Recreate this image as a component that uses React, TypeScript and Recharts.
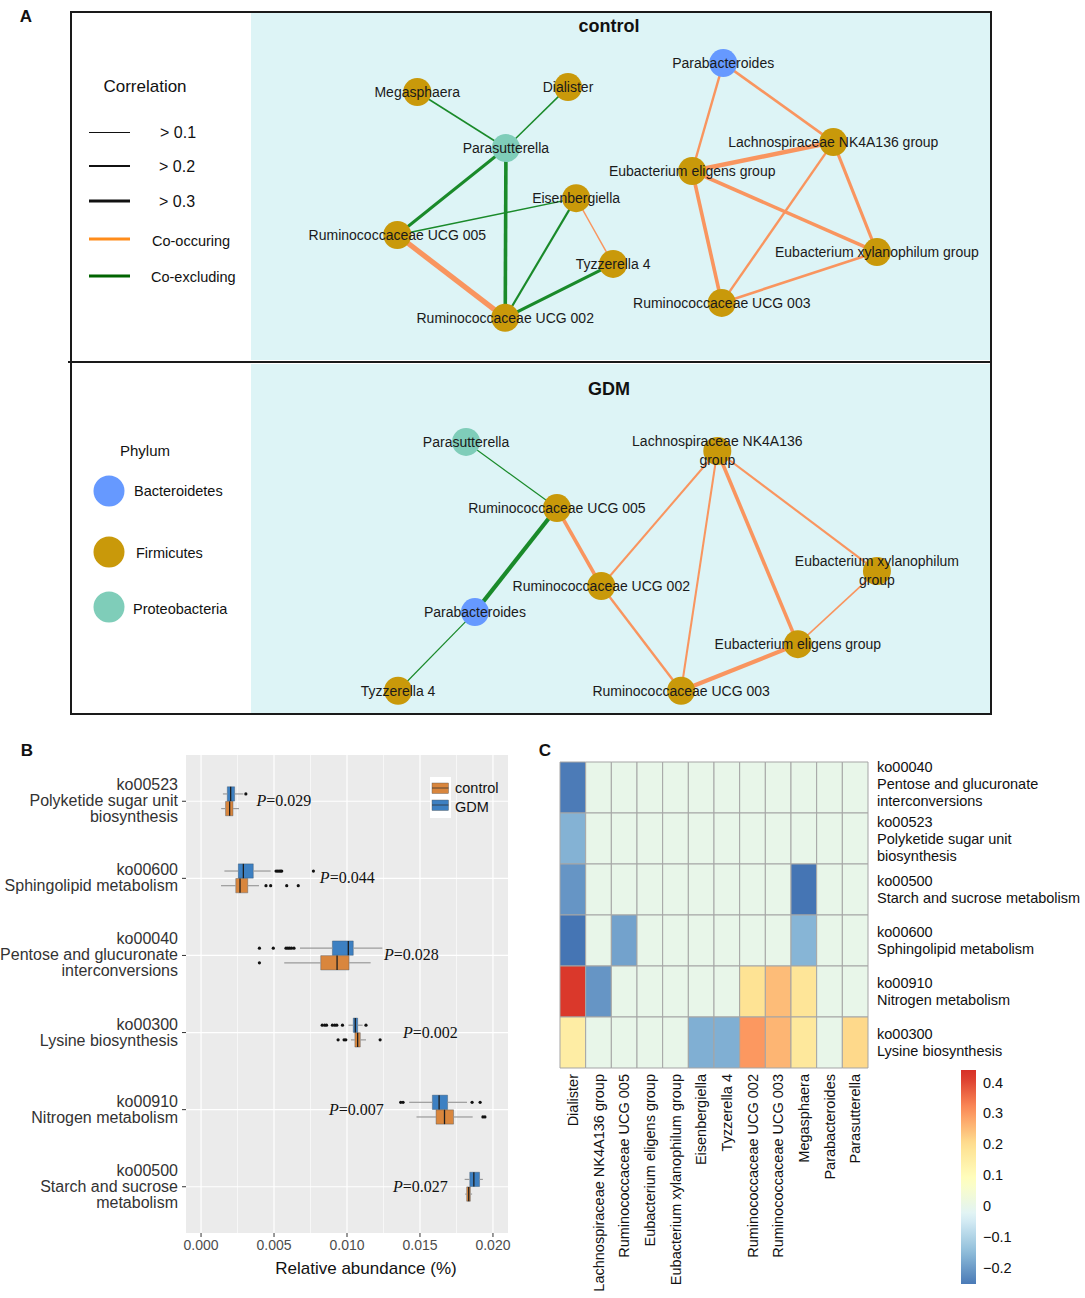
import React from 'react'
import {
  ScatterChart, Scatter, BarChart, Bar, XAxis, YAxis, CartesianGrid,
  ReferenceArea, ReferenceLine,
} from 'recharts'

// ---------- A: co-occurrence networks ----------
const phylumColor: Record<string, string> = {
  Bacteroidetes: '#6699ff',
  Firmicutes: '#c9990a',
  Proteobacteria: '#7fcdb9',
}
const EDGE_POS = '#f9955f'
const EDGE_NEG = '#1a8a2a'

// layout coordinates (0-100) of each genus in the control network
const controlNodes = [
  { id: 'Megasphaera', label: 'Megasphaera', phylum: 'Firmicutes', x: 22.5, y: 22.7 },
  { id: 'Dialister', label: 'Dialister', phylum: 'Firmicutes', x: 42.9, y: 21.3 },
  { id: 'Parasutterella', label: 'Parasutterella', phylum: 'Proteobacteria', x: 34.5, y: 38.8 },
  { id: 'Parabacteroides', label: 'Parabacteroides', phylum: 'Bacteroidetes', x: 63.9, y: 14.4 },
  { id: 'Lachno', label: 'Lachnospiraceae NK4A136 group', phylum: 'Firmicutes', x: 78.8, y: 37.1 },
  { id: 'Eligens', label: 'Eubacterium eligens group', phylum: 'Firmicutes', x: 59.7, y: 45.4 },
  { id: 'Eisenbergiella', label: 'Eisenbergiella', phylum: 'Firmicutes', x: 44.0, y: 53.2 },
  { id: 'UCG005', label: 'Ruminococcaceae UCG 005', phylum: 'Firmicutes', x: 19.8, y: 63.8 },
  { id: 'Tyzzerella', label: 'Tyzzerella 4', phylum: 'Firmicutes', x: 49.0, y: 72.1 },
  { id: 'Xylano', label: 'Eubacterium xylanophilum group', phylum: 'Firmicutes', x: 84.7, y: 68.7 },
  { id: 'UCG003', label: 'Ruminococcaceae UCG 003', phylum: 'Firmicutes', x: 63.7, y: 83.3 },
  { id: 'UCG002', label: 'Ruminococcaceae UCG 002', phylum: 'Firmicutes', x: 34.4, y: 87.6 },
]

// [from, to, correlation]  (+ co-occurring, - co-excluding)
const controlEdges: [string, string, number][] = [
  ['Megasphaera', 'Parasutterella', -0.13],
  ['Dialister', 'Parasutterella', -0.13],
  ['Parasutterella', 'UCG005', -0.25],
  ['Parasutterella', 'UCG002', -0.3],
  ['UCG005', 'Eisenbergiella', -0.12],
  ['Eisenbergiella', 'UCG002', -0.18],
  ['Tyzzerella', 'UCG002', -0.25],
  ['UCG005', 'UCG002', 0.44],
  ['Eisenbergiella', 'Tyzzerella', 0.12],
  ['Parabacteroides', 'Eligens', 0.2],
  ['Parabacteroides', 'Lachno', 0.22],
  ['Eligens', 'Lachno', 0.38],
  ['Eligens', 'Xylano', 0.3],
  ['Eligens', 'UCG003', 0.3],
  ['Lachno', 'UCG003', 0.2],
  ['Lachno', 'Xylano', 0.26],
  ['Xylano', 'UCG003', 0.22],
]

const gdmNodes = [
  { id: 'Parasutterella', label: 'Parasutterella', phylum: 'Proteobacteria', x: 29.1, y: 22.4 },
  { id: 'Lachno', label: 'Lachnospiraceae NK4A136\ngroup', phylum: 'Firmicutes', x: 63.1, y: 25.0 },
  { id: 'UCG005', label: 'Ruminococcaceae UCG 005', phylum: 'Firmicutes', x: 41.4, y: 41.4 },
  { id: 'UCG002', label: 'Ruminococcaceae UCG 002', phylum: 'Firmicutes', x: 47.4, y: 63.8 },
  { id: 'Xylano', label: 'Eubacterium xylanophilum\ngroup', phylum: 'Firmicutes', x: 84.7, y: 59.5 },
  { id: 'Parabacteroides', label: 'Parabacteroides', phylum: 'Bacteroidetes', x: 30.3, y: 71.3 },
  { id: 'Eligens', label: 'Eubacterium eligens group', phylum: 'Firmicutes', x: 74.0, y: 80.5 },
  { id: 'Tyzzerella', label: 'Tyzzerella 4', phylum: 'Firmicutes', x: 19.9, y: 93.9 },
  { id: 'UCG003', label: 'Ruminococcaceae UCG 003', phylum: 'Firmicutes', x: 58.2, y: 93.9 },
]

const gdmEdges: [string, string, number][] = [
  ['Parasutterella', 'UCG005', -0.1],
  ['UCG005', 'Parabacteroides', -0.35],
  ['Parabacteroides', 'Tyzzerella', -0.1],
  ['UCG005', 'UCG002', 0.3],
  ['UCG002', 'Lachno', 0.17],
  ['UCG002', 'UCG003', 0.2],
  ['Lachno', 'UCG003', 0.17],
  ['Lachno', 'Eligens', 0.3],
  ['Lachno', 'Xylano', 0.18],
  ['Xylano', 'Eligens', 0.13],
  ['Eligens', 'UCG003', 0.35],
]

// ---------- B: boxplots ----------
const pathways = ['ko00523', 'ko00600', 'ko00040', 'ko00300', 'ko00910', 'ko00500']
const pathwayLabels = [
  ['ko00523', 'Polyketide sugar unit', 'biosynthesis'],
  ['ko00600', 'Sphingolipid metabolism'],
  ['ko00040', 'Pentose and glucuronate', 'interconversions'],
  ['ko00300', 'Lysine biosynthesis'],
  ['ko00910', 'Nitrogen metabolism'],
  ['ko00500', 'Starch and sucrose', 'metabolism'],
]
// [lower whisker, Q1, median, Q3, upper whisker]
const gdmBoxes = [
  [0.0015, 0.0018, 0.00203, 0.0023, 0.0029],
  [0.0016, 0.00255, 0.0029, 0.00358, 0.00477],
  [0.00678, 0.009, 0.01009, 0.01043, 0.01242],
  [0.0101, 0.01043, 0.01057, 0.01073, 0.01107],
  [0.01426, 0.01585, 0.01631, 0.01689, 0.01822],
  [0.01806, 0.01841, 0.01869, 0.01908, 0.01931],
]
const controlBoxes = [
  [0.00138, 0.00168, 0.00196, 0.00219, 0.0026],
  [0.00137, 0.00238, 0.00267, 0.0032, 0.00397],
  [0.0057, 0.0082, 0.00932, 0.01014, 0.01162],
  [0.01027, 0.01054, 0.01073, 0.01091, 0.0113],
  [0.01476, 0.0161, 0.01668, 0.0173, 0.01861],
  [0.0181, 0.0182, 0.01834, 0.01845, 0.01857],
]
const gdmOutliers = [
  [0.00307],
  [0.00514, 0.00525, 0.00535, 0.00545, 0.00553, 0.0077],
  [0.004, 0.00495, 0.00582, 0.00595, 0.00607, 0.0062, 0.00637],
  [0.0083, 0.00847, 0.0086, 0.009, 0.00916, 0.0093, 0.00969, 0.0113],
  [0.01368, 0.01384, 0.01857, 0.01912],
  [],
]
const controlOutliers = [
  [],
  [0.00445, 0.00477, 0.00587, 0.00666],
  [0.004],
  [0.00939, 0.0098, 0.00992, 0.01227],
  [0.01931, 0.01945],
  [],
]
const pValues = ['0.029', '0.044', '0.028', '0.002', '0.007', '0.027']
const pLabelAt = [0.0038, 0.00814, 0.01253, 0.01384, 0.00877, 0.01315]

const GDM_COL = '#3d80c2'
const CTRL_COL = '#d9863d'
const DODGE = 0.095
const HALF = 0.093

// ---------- C: heatmap ----------
const heatRows = [
  ['ko00040', 'Pentose and glucuronate', 'interconversions'],
  ['ko00523', 'Polyketide sugar unit', 'biosynthesis'],
  ['ko00500', 'Starch and sucrose metabolism'],
  ['ko00600', 'Sphingolipid metabolism'],
  ['ko00910', 'Nitrogen metabolism'],
  ['ko00300', 'Lysine biosynthesis'],
]
const heatCols = [
  'Dialister', 'Lachnospiraceae NK4A136 group', 'Ruminococcaceae UCG 005',
  'Eubacterium eligens group', 'Eubacterium xylanophilum group', 'Eisenbergiella',
  'Tyzzerella 4', 'Ruminococcaceae UCG 002', 'Ruminococcaceae UCG 003',
  'Megasphaera', 'Parabacteroides', 'Parasutterella',
]
const corKo00040 = [-0.25, 0, 0, 0, 0, 0, 0, 0, 0, 0, 0, 0]
const corKo00523 = [-0.165, 0, 0, 0, 0, 0, 0, 0, 0, 0, 0, 0]
const corKo00500 = [-0.21, 0, 0, 0, 0, 0, 0, 0, 0, -0.26, 0, 0]
const corKo00600 = [-0.26, 0, -0.19, 0, 0, 0, 0, 0, 0, -0.16, 0, 0]
const corKo00910 = [0.42, -0.21, 0, 0, 0, 0, 0, 0.19, 0.25, 0.18, 0, 0]
const corKo00300 = [0.15, 0, 0, 0, 0, -0.17, -0.17, 0.3, 0.26, 0.17, 0, 0.21]
const heatValues = [corKo00040, corKo00523, corKo00500, corKo00600, corKo00910, corKo00300]

const paletteStops: [number, string][] = [
  [-0.26, '#4575b4'], [-0.145, '#91bfdb'], [-0.03, '#e0f3f8'], [0.085, '#ffffbf'],
  [0.2, '#fee090'], [0.315, '#fc8d59'], [0.43, '#d73027'],
]
const CB_MIN = -0.252
const CB_MAX = 0.44
const cbTicks = [-0.2, -0.1, 0, 0.1, 0.2, 0.3, 0.4]

const hex = (c: string) => [1, 3, 5].map(i => parseInt(c.slice(i, i + 2), 16))
const colorScale = (v: number) => {
  if (v <= paletteStops[0][0]) return paletteStops[0][1]
  for (let i = 1; i < paletteStops.length; i++) {
    const [v1, c1] = paletteStops[i]
    if (v <= v1) {
      const [v0, c0] = paletteStops[i - 1]
      const t = (v - v0) / (v1 - v0)
      const a = hex(c0), b = hex(c1)
      const m = a.map((x, k) => Math.round(x + (b[k] - x) * t))
      return `rgb(${m[0]},${m[1]},${m[2]})`
    }
  }
  return paletteStops[paletteStops.length - 1][1]
}

// ---------- components ----------
const NodeDot = (props: any) => (
  <circle cx={props.cx} cy={props.cy} r={14} fill={phylumColor[props.payload.phylum]} />
)
const NodeLabel = (props: any) => {
  const lines = props.payload.label.split('\n')
  const start = lines.length > 1 ? -10 : 0
  return (
    <text x={props.cx} y={props.cy} textAnchor="middle" fontSize={14} fill="#1a1a1a">
      {lines.map((l: string, i: number) => (
        <tspan key={i} x={props.cx} dy={i === 0 ? start + 5 : 19}>{l}</tspan>
      ))}
    </text>
  )
}
const NoMark = () => <g />

const Network = ({ nodes, edges, top, height, title }: any) => {
  const byId: Record<string, any> = {}
  nodes.forEach((n: any) => { byId[n.id] = n })
  return (
    <div style={{ position: 'absolute', left: 251, top, width: 739, height, background: '#ddf4f6' }}>
      <ScatterChart width={739} height={348} margin={{ top: 0, right: 0, bottom: 0, left: 0 }}>
        <XAxis type="number" dataKey="x" domain={[0, 100]} hide />
        <YAxis type="number" dataKey="y" domain={[0, 100]} reversed hide />
        {edges.map(([a, b, r]: [string, string, number], i: number) => (
          <Scatter
            key={i}
            data={[byId[a], byId[b]]}
            fill={r > 0 ? EDGE_POS : EDGE_NEG}
            line={{ stroke: r > 0 ? EDGE_POS : EDGE_NEG, strokeWidth: Math.abs(r) * 12 }}
            shape={NoMark}
            isAnimationActive={false}
          />
        ))}
        <Scatter data={nodes} shape={NodeDot} isAnimationActive={false} />
        <Scatter data={nodes} shape={NodeLabel} isAnimationActive={false} />
      </ScatterChart>
      <div style={{ position: 'absolute', left: 0, width: 716, top: title.top, textAlign: 'center', fontWeight: 'bold', fontSize: 18 }}>
        {title.text}
      </div>
    </div>
  )
}

const BoxTick = (props: any) => {
  const { x, y, payload } = props
  const lines = pathwayLabels[payload.value] || []
  const start = -((lines.length - 1) * 16) / 2 + 5
  return (
    <text x={x} y={y} textAnchor="end" fontSize={16} fill="#333">
      {lines.map((l, i) => (
        <tspan key={i} x={x} dy={i === 0 ? start : 16}>{l}</tspan>
      ))}
    </text>
  )
}

const Outlier = (props: any) => <circle cx={props.cx} cy={props.cy} r={1.6} fill="#111" />

const PLabel = (props: any) => (
  <text x={props.cx} y={props.cy} dy={5} fontSize={16} fontFamily='"Liberation Serif", "Times New Roman", serif' fill="#111">
    <tspan fontStyle="italic">P</tspan>={props.payload.p}
  </text>
)

const HeatRowTick = (props: any) => {
  const { x, y, payload } = props
  const row = Math.floor(payload.value)
  const lines = heatRows[row] || []
  const start = -((lines.length - 1) * 17) / 2 + 5 - (row === 0 ? 4 : 0)
  return (
    <text x={x} y={y} textAnchor="start" fontSize={14.5} fill="#111">
      {lines.map((l, i) => (
        <tspan key={i} x={x} dy={i === 0 ? start : 17}>{l}</tspan>
      ))}
    </text>
  )
}

const HeatColTick = (props: any) => {
  const { x, y, payload } = props
  return (
    <text x={x} y={y} dy="0.35em" textAnchor="end" fontSize={14.5} fill="#111" transform={`rotate(-90 ${x} ${y})`}>
      {heatCols[Math.floor(payload.value)]}
    </text>
  )
}

const BoxPlot = () => {
  const boxes: any[] = []
  pathways.forEach((_, i) => {
    ;[[gdmBoxes[i], -DODGE, GDM_COL], [controlBoxes[i], DODGE, CTRL_COL]].forEach(([b, off, col]: any, g) => {
      const c = i + off
      const [lo, q1, med, q3, hi] = b
      boxes.push(
        <ReferenceLine key={`wl${i}${g}`} segment={[{ x: lo, y: c }, { x: q1, y: c }]} stroke="#9a9a9a" strokeWidth={1.2} />,
        <ReferenceLine key={`wh${i}${g}`} segment={[{ x: q3, y: c }, { x: hi, y: c }]} stroke="#9a9a9a" strokeWidth={1.2} />,
        <ReferenceArea key={`b${i}${g}`} x1={q1} x2={q3} y1={c - HALF} y2={c + HALF} fill={col} fillOpacity={1} stroke="#33475b" strokeOpacity={0.6} strokeWidth={0.6} />,
        <ReferenceLine key={`m${i}${g}`} segment={[{ x: med, y: c - HALF }, { x: med, y: c + HALF }]} stroke="#1e1e1e" strokeWidth={1.3} />,
      )
    })
  })
  const outliers: any[] = []
  pathways.forEach((_, i) => {
    gdmOutliers[i].forEach(v => outliers.push({ x: v, y: i - DODGE }))
    controlOutliers[i].forEach(v => outliers.push({ x: v, y: i + DODGE }))
  })
  const pData = pValues.map((p, i) => ({ x: pLabelAt[i], y: i, p }))
  return (
    <ScatterChart width={520} height={550} margin={{ top: 15, right: 12, bottom: 12, left: 0 }}>
      <CartesianGrid fill="#ebebeb" stroke="#ffffff" strokeWidth={0.6} horizontal={false}
        verticalValues={[0.0025, 0.0075, 0.0125, 0.0175]} />
      <CartesianGrid stroke="#ffffff" strokeWidth={1.2}
        verticalValues={[0, 0.005, 0.01, 0.015, 0.02]} horizontalValues={[0, 1, 2, 3, 4, 5]} />
      <XAxis type="number" dataKey="x" domain={[-0.00103, 0.02103]} ticks={[0, 0.005, 0.01, 0.015, 0.02]}
        tickFormatter={(v: number) => v.toFixed(3)} axisLine={false} tickSize={4} tickMargin={3}
        tickLine={{ stroke: '#333' }} tick={{ fill: '#4d4d4d', fontSize: 14 }} height={45} />
      <YAxis type="number" dataKey="y" domain={[-0.6, 5.6]} reversed ticks={[0, 1, 2, 3, 4, 5]}
        interval={0} width={186} axisLine={false} tickSize={4} tickMargin={4}
        tickLine={{ stroke: '#333' }} tick={<BoxTick />} />
      {boxes}
      <Scatter data={outliers} shape={Outlier} isAnimationActive={false} />
      <Scatter data={pData} shape={PLabel} isAnimationActive={false} />
    </ScatterChart>
  )
}

const Heatmap = () => {
  const cells: any[] = []
  const centers: any[] = []
  heatValues.forEach((row, j) => row.forEach((v, i) => {
    centers.push({ x: i + 0.5, y: j + 0.5, v })
    cells.push(
      <ReferenceArea key={`${j}-${i}`} x1={i} x2={i + 1} y1={j} y2={j + 1}
        fill={colorScale(v)} fillOpacity={1} stroke="#a5a5a5" strokeWidth={1} />,
    )
  }))
  return (
    <ScatterChart width={555} height={558} margin={{ top: 22, right: 7, bottom: 5, left: 30 }}>
      <XAxis type="number" dataKey="x" domain={[0, 12]} ticks={heatCols.map((_, i) => i + 0.5)}
        interval={0} height={225} axisLine={false} tickLine={false} tickSize={0} tickMargin={6}
        tick={<HeatColTick />} />
      <YAxis type="number" dataKey="y" orientation="right" domain={[0, 6]} reversed
        ticks={heatRows.map((_, i) => i + 0.5)} interval={0} width={210}
        axisLine={false} tickLine={false} tickSize={0} tickMargin={9} tick={<HeatRowTick />} />
      {cells}
      <Scatter data={centers} shape={NoMark} isAnimationActive={false} />
    </ScatterChart>
  )
}

const ColorBar = () => {
  const n = 24
  const stops = Array.from({ length: n + 1 }, (_, k) => {
    const v = CB_MIN + ((CB_MAX - CB_MIN) * k) / n
    return <stop key={k} offset={`${(k / n) * 100}%`} stopColor={colorScale(v)} />
  })
  return (
    <BarChart width={80} height={214} data={[{ k: 'scale', range: [CB_MIN, CB_MAX] }]}
      margin={{ top: 0, right: 0, bottom: 0, left: 0 }}>
      <defs>
        <linearGradient id="cbar" x1="0" y1="1" x2="0" y2="0">{stops}</linearGradient>
      </defs>
      <XAxis dataKey="k" hide />
      <YAxis type="number" orientation="right" domain={[CB_MIN, CB_MAX]} ticks={cbTicks} interval={0}
        width={50} axisLine={false} tickLine={false} tickSize={0} tickMargin={0}
        tickFormatter={(v: number) => (v < 0 ? '\u2212' + Math.abs(v).toFixed(1) : v === 0 ? '0' : v.toFixed(1))}
        tick={{ fill: '#111', fontSize: 14.5, textAnchor: 'start' }} />
      <Bar dataKey="range" fill="url(#cbar)" barSize={15} isAnimationActive={false} />
    </BarChart>
  )
}

const T = ({ x, y, size = 14.5, bold = false, anchor = 'start', children }: any) => (
  <text x={x} y={y} fontSize={size} fontWeight={bold ? 'bold' : 'normal'} textAnchor={anchor} fill="#111">{children}</text>
)

export default function App() {
  return (
    <div style={{
      position: 'absolute', left: 0, top: 0, width: 1085, height: 1298, background: '#fff',
      fontFamily: '"Liberation Sans", Arial, sans-serif', color: '#111',
    }}>
      {/* panel A frame */}
      <div style={{ position: 'absolute', left: 70, top: 11, width: 922, height: 704, border: '2px solid #1a1a1a', boxSizing: 'border-box' }} />
      <Network nodes={controlNodes} edges={controlEdges} top={13} height={347} title={{ text: 'control', top: 3 }} />
      <Network nodes={gdmNodes} edges={gdmEdges} top={364} height={349} title={{ text: 'GDM', top: 15 }} />
      <div style={{ position: 'absolute', left: 68, top: 361, width: 924, height: 2, background: '#1a1a1a' }} />

      <svg width={1085} height={1298} style={{ position: 'absolute', left: 0, top: 0, pointerEvents: 'none' }}>
        <T x={26} y={22} size={17} bold anchor="middle">A</T>
        <T x={27} y={756} size={17} bold anchor="middle">B</T>
        <T x={545} y={756} size={17} bold anchor="middle">C</T>

        {/* correlation legend */}
        <T x={145} y={92} size={17} anchor="middle">Correlation</T>
        <line x1={89} x2={130} y1={132.5} y2={132.5} stroke="#111" strokeWidth={1} />
        <line x1={89} x2={130} y1={166} y2={166} stroke="#111" strokeWidth={2} />
        <line x1={89} x2={130} y1={201} y2={201} stroke="#111" strokeWidth={3} />
        <line x1={89} x2={130} y1={239} y2={239} stroke="#ff8c1a" strokeWidth={3} />
        <line x1={89} x2={130} y1={276} y2={276} stroke="#006400" strokeWidth={3} />
        <T x={160} y={138} size={16}>{'> 0.1'}</T>
        <T x={159} y={172} size={16}>{'> 0.2'}</T>
        <T x={159} y={207} size={16}>{'> 0.3'}</T>
        <T x={152} y={246} size={14.5}>Co-occuring</T>
        <T x={151} y={282} size={14.5}>Co-excluding</T>

        {/* phylum legend */}
        <T x={145} y={456} size={15} anchor="middle">Phylum</T>
        <circle cx={109} cy={491} r={15.5} fill={phylumColor.Bacteroidetes} />
        <circle cx={109} cy={552} r={15.5} fill={phylumColor.Firmicutes} />
        <circle cx={109} cy={607} r={15.5} fill={phylumColor.Proteobacteria} />
        <T x={134} y={496} size={14.5}>Bacteroidetes</T>
        <T x={136} y={558} size={14.5}>Firmicutes</T>
        <T x={133} y={614} size={14.5}>Proteobacteria</T>

        {/* B axis title */}
        <T x={366} y={1274} size={17} anchor="middle">Relative abundance (%)</T>
      </svg>

      {/* panel B */}
      <div style={{ position: 'absolute', left: 0, top: 740 }}>
        <BoxPlot />
      </div>
      <svg width={40} height={50} style={{ position: 'absolute', left: 428, top: 774 }}>
        <rect x={2} y={3} width={21} height={41} fill="#ffffff" />
        <rect x={4} y={9} width={16.5} height={10.5} fill={CTRL_COL} stroke="#555" strokeWidth={0.4} />
        <line x1={4} x2={20.5} y1={14} y2={14} stroke="#333" strokeWidth={0.8} />
        <rect x={4} y={26} width={16.5} height={10.5} fill={GDM_COL} stroke="#555" strokeWidth={0.4} />
        <line x1={4} x2={20.5} y1={31} y2={31} stroke="#333" strokeWidth={0.8} />
      </svg>
      <div style={{ position: 'absolute', left: 455, top: 779, fontSize: 14.5, lineHeight: '19px' }}>
        control<br />GDM
      </div>

      {/* panel C */}
      <div style={{ position: 'absolute', left: 530, top: 740 }}>
        <Heatmap />
      </div>
      <div style={{ position: 'absolute', left: 953, top: 1070 }}>
        <ColorBar />
      </div>
    </div>
  )
}
